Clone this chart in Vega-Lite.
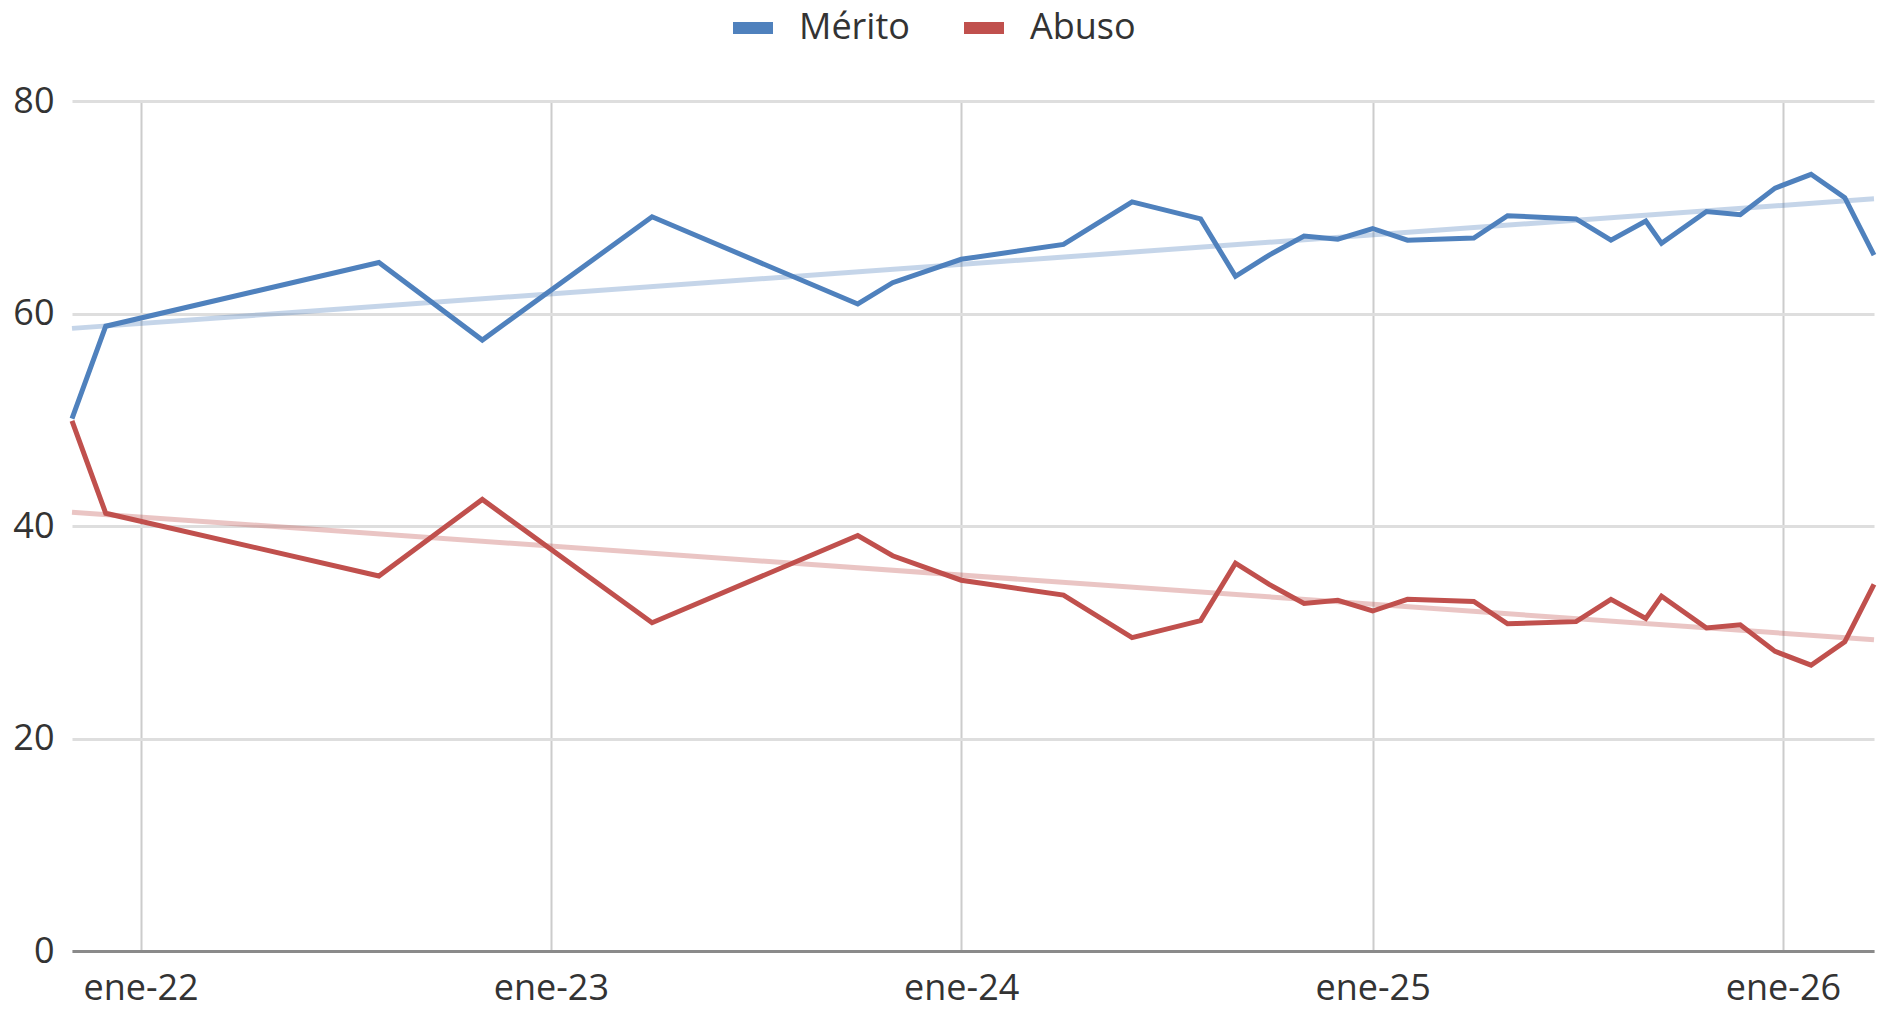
{
  "$schema": "https://vega.github.io/schema/vega-lite/v6.json",
  "width": 1802,
  "height": 850,
  "autosize": "none",
  "padding": {"left": 72, "top": 101, "right": 4, "bottom": 62},
  "background": "white",
  "datasets": {
    "main": [
      {"date": "2021-11-01", "series": "Mérito", "value": 50.1},
      {"date": "2021-12-01", "series": "Mérito", "value": 58.8},
      {"date": "2022-08-01", "series": "Mérito", "value": 64.8},
      {"date": "2022-11-01", "series": "Mérito", "value": 57.5},
      {"date": "2023-04-01", "series": "Mérito", "value": 69.1},
      {"date": "2023-10-01", "series": "Mérito", "value": 60.9},
      {"date": "2023-11-01", "series": "Mérito", "value": 62.9},
      {"date": "2024-01-01", "series": "Mérito", "value": 65.1},
      {"date": "2024-04-01", "series": "Mérito", "value": 66.5},
      {"date": "2024-06-01", "series": "Mérito", "value": 70.5},
      {"date": "2024-08-01", "series": "Mérito", "value": 68.9},
      {"date": "2024-09-01", "series": "Mérito", "value": 63.5},
      {"date": "2024-10-01", "series": "Mérito", "value": 65.5},
      {"date": "2024-11-01", "series": "Mérito", "value": 67.3},
      {"date": "2024-12-01", "series": "Mérito", "value": 67.0},
      {"date": "2025-01-01", "series": "Mérito", "value": 68.0},
      {"date": "2025-02-01", "series": "Mérito", "value": 66.9},
      {"date": "2025-04-01", "series": "Mérito", "value": 67.1},
      {"date": "2025-05-01", "series": "Mérito", "value": 69.2},
      {"date": "2025-07-01", "series": "Mérito", "value": 68.9},
      {"date": "2025-08-01", "series": "Mérito", "value": 66.9},
      {"date": "2025-09-01", "series": "Mérito", "value": 68.7},
      {"date": "2025-09-15", "series": "Mérito", "value": 66.6},
      {"date": "2025-10-25", "series": "Mérito", "value": 69.6},
      {"date": "2025-11-24", "series": "Mérito", "value": 69.3},
      {"date": "2025-12-25", "series": "Mérito", "value": 71.8},
      {"date": "2026-01-26", "series": "Mérito", "value": 73.1},
      {"date": "2026-02-25", "series": "Mérito", "value": 70.9},
      {"date": "2026-03-23", "series": "Mérito", "value": 65.5},
      {"date": "2021-11-01", "series": "Abuso", "value": 49.9},
      {"date": "2021-12-01", "series": "Abuso", "value": 41.2},
      {"date": "2022-08-01", "series": "Abuso", "value": 35.3},
      {"date": "2022-11-01", "series": "Abuso", "value": 42.5},
      {"date": "2023-04-01", "series": "Abuso", "value": 30.9},
      {"date": "2023-10-01", "series": "Abuso", "value": 39.1},
      {"date": "2023-11-01", "series": "Abuso", "value": 37.2},
      {"date": "2024-01-01", "series": "Abuso", "value": 34.9},
      {"date": "2024-04-01", "series": "Abuso", "value": 33.5},
      {"date": "2024-06-01", "series": "Abuso", "value": 29.5},
      {"date": "2024-08-01", "series": "Abuso", "value": 31.1},
      {"date": "2024-09-01", "series": "Abuso", "value": 36.5},
      {"date": "2024-10-01", "series": "Abuso", "value": 34.5},
      {"date": "2024-11-01", "series": "Abuso", "value": 32.7},
      {"date": "2024-12-01", "series": "Abuso", "value": 33.0},
      {"date": "2025-01-01", "series": "Abuso", "value": 32.0},
      {"date": "2025-02-01", "series": "Abuso", "value": 33.1},
      {"date": "2025-04-01", "series": "Abuso", "value": 32.9},
      {"date": "2025-05-01", "series": "Abuso", "value": 30.8},
      {"date": "2025-07-01", "series": "Abuso", "value": 31.0},
      {"date": "2025-08-01", "series": "Abuso", "value": 33.1},
      {"date": "2025-09-01", "series": "Abuso", "value": 31.3},
      {"date": "2025-09-15", "series": "Abuso", "value": 33.4},
      {"date": "2025-10-25", "series": "Abuso", "value": 30.4},
      {"date": "2025-11-24", "series": "Abuso", "value": 30.7},
      {"date": "2025-12-25", "series": "Abuso", "value": 28.2},
      {"date": "2026-01-26", "series": "Abuso", "value": 26.9},
      {"date": "2026-02-25", "series": "Abuso", "value": 29.1},
      {"date": "2026-03-23", "series": "Abuso", "value": 34.5}
    ],
    "trend": [
      {"date": "2021-11-01", "series": "Mérito", "value": 58.6},
      {"date": "2026-03-23", "series": "Mérito", "value": 70.8},
      {"date": "2021-11-01", "series": "Abuso", "value": 41.3},
      {"date": "2026-03-23", "series": "Abuso", "value": 29.3}
    ]
  },
  "layer": [
    {
      "data": {"name": "trend"},
      "mark": {"type": "line", "strokeWidth": 5, "opacity": 0.33},
      "encoding": {
        "x": {"field": "date", "type": "temporal"},
        "y": {"field": "value", "type": "quantitative"},
        "color": {"field": "series", "type": "nominal"}
      }
    },
    {
      "data": {"name": "main"},
      "mark": {"type": "line", "strokeWidth": 5},
      "encoding": {
        "x": {
          "field": "date",
          "type": "temporal",
          "scale": {"nice": false},
          "axis": {
            "title": null,
            "grid": true,
            "gridColor": "#cccccc",
            "gridWidth": 2,
            "domainColor": "#8a8a8a",
            "domainWidth": 3,
            "ticks": false,
            "tickSize": 0,
            "tickCount": {"interval": "year", "step": 1},
            "labelExpr": "'ene-' + timeFormat(datum.value, '%y')",
            "labelFont": "Open Sans",
            "labelFontSize": 36,
            "labelColor": "#333333",
            "labelPadding": 20,
            "labelFlush": false,
            "labelOverlap": false
          }
        },
        "y": {
          "field": "value",
          "type": "quantitative",
          "scale": {"domain": [0, 80], "nice": false},
          "axis": {
            "title": null,
            "values": [0, 20, 40, 60, 80],
            "domain": false,
            "ticks": false,
            "tickSize": 0,
            "gridColor": "#dedede",
            "gridWidth": 3,
            "labelFont": "Open Sans",
            "labelFontSize": 36,
            "labelColor": "#333333",
            "labelPadding": 18
          }
        },
        "color": {
          "field": "series",
          "type": "nominal",
          "scale": {"domain": ["Mérito", "Abuso"], "range": ["#4F81BD", "#C0504D"]},
          "legend": {
            "title": null,
            "orient": "none",
            "legendX": 655,
            "legendY": -99,
            "direction": "horizontal",
            "symbolType": "stroke",
            "symbolSize": 1600,
            "symbolStrokeWidth": 12,
            "symbolOpacity": 1,
            "labelFont": "Open Sans",
            "labelFontSize": 36,
            "labelColor": "#333333",
            "labelOffset": 20,
            "columnPadding": 30,
            "encode": {"symbols": {"update": {"opacity": {"value": 1}, "strokeOpacity": {"value": 1}}}}
          }
        }
      }
    }
  ],
  "config": {"view": {"stroke": null}}
}
